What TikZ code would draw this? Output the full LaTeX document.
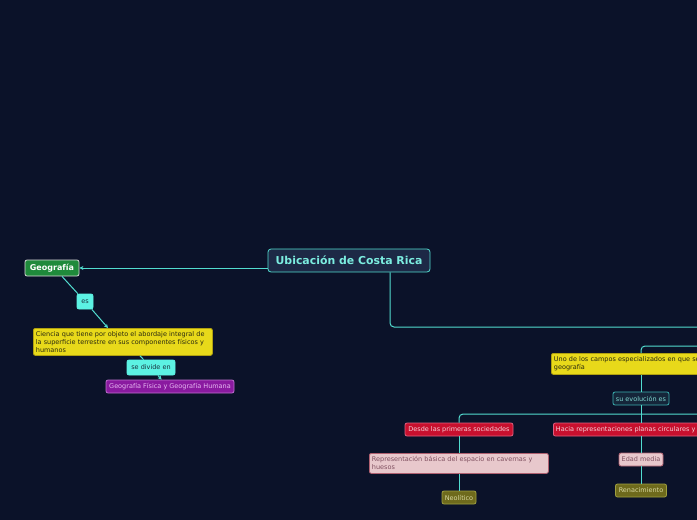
\documentclass[tikz,border=0pt]{standalone}
\usepackage{fontspec}
\setmainfont{DejaVu Sans}
\usetikzlibrary{arrows.meta, positioning}
\definecolor{bgnavy}{HTML}{0B1229}
\definecolor{linkcyan}{HTML}{52DCCF}
\definecolor{centralfill}{HTML}{1D2946}
\definecolor{centraltext}{HTML}{7CEDE0}
\definecolor{geogreen}{HTML}{1F8A3B}
\definecolor{tagcyan}{HTML}{5CF2E3}
\definecolor{tagtext}{HTML}{1A3340}
\definecolor{ideayellow}{HTML}{E8D91A}
\definecolor{ideaborder}{HTML}{B0A010}
\definecolor{ideatext}{HTML}{2A2A10}
\definecolor{purplefill}{HTML}{8A1AA0}
\definecolor{purpleborder}{HTML}{C070D0}
\definecolor{purpletext}{HTML}{E6B8F2}
\definecolor{darkfill}{HTML}{15263A}
\definecolor{darkborder}{HTML}{3AAFAF}
\definecolor{darktext}{HTML}{7FD8D0}
\definecolor{redfill}{HTML}{C8102E}
\definecolor{redborder}{HTML}{E06080}
\definecolor{redtext}{HTML}{F5D0D8}
\definecolor{pinkfill}{HTML}{E8C8CC}
\definecolor{pinkborder}{HTML}{B06070}
\definecolor{pinktext}{HTML}{805060}
\definecolor{olivefill}{HTML}{6E6A1C}
\definecolor{oliveborder}{HTML}{A0A040}
\definecolor{olivetext}{HTML}{D8D8A0}

\begin{document}
\begin{tikzpicture}[
    x=1pt, y=-1pt,
    box/.style={rectangle, draw, rounded corners=2pt, inner xsep=2.5pt, inner ysep=1.5pt, line width=0.8pt,
        font=\fontsize{6.5}{8}\selectfont, align=left},
    central/.style={box, fill=centralfill, draw=linkcyan, text=centraltext, rounded corners=3pt,
        font=\fontsize{10.9}{13}\selectfont\bfseries, minimum width=162pt, minimum height=23pt},
    rootbox/.style={box, fill=geogreen, draw=white!85!black, text=white,
        font=\fontsize{8}{9.5}\selectfont\bfseries, minimum width=54pt, minimum height=16pt},
    tag/.style={box, fill=tagcyan, draw=tagcyan, text=tagtext, minimum height=15pt},
    idea/.style={box, fill=ideayellow, draw=ideaborder, text=ideatext},
    purplebox/.style={box, fill=purplefill, draw=purpleborder, text=purpletext, minimum height=13pt},
    darkbox/.style={box, fill=darkfill, draw=darkborder, text=darktext, minimum height=13pt},
    redbox/.style={box, fill=redfill, draw=redborder, text=redtext, minimum height=13pt},
    pinkbox/.style={box, fill=pinkfill, draw=pinkborder, text=pinktext},
    olivebox/.style={box, fill=olivefill, draw=oliveborder, text=olivetext, minimum height=13pt},
    link/.style={draw=linkcyan, line width=1pt, rounded corners=4pt},
    arrow/.style={link, -{Stealth[length=4pt, width=4pt]}},
]
\clip (0,0) rectangle (697,520);
\fill[bgnavy] (0,0) rectangle (697,520);

% Main topic and left branch
\node[central] (costa) at (349,260.5) {Ubicación de Costa Rica};
\node[rootbox] (geo) at (52,268) {Geografía};
\node[tag, minimum width=16pt] (es) at (85,301.5) {es};
\node[idea, anchor=north west, text width=174pt, minimum height=27pt] (ciencia) at (33,328)
    {Ciencia que tiene por objeto el abordaje integral de\\la superficie terrestre en sus componentes físicos y\\humanos};
\node[tag, minimum width=48pt] (divide) at (151,367.5) {se divide en};
\node[purplebox, minimum width=128pt] (fisica) at (170,386.5) {Geografía Física y Geografía Humana};

% Right branch
\node[idea, anchor=north west, text width=190pt, minimum height=21pt] (campos) at (551,353)
    {Uno de los campos especializados en que se\\geografía};
\node[darkbox, minimum width=56pt] (evol) at (641,398.5) {su evolución es};
\node[redbox, minimum width=108pt] (desde) at (459,429.5) {Desde las primeras sociedades};
\node[redbox, anchor=west, text width=170pt] (hacia) at (553,429.5) {Hacia representaciones planas circulares y};
\node[pinkbox, anchor=north west, text width=174pt, minimum height=20pt] (repres) at (369,453)
    {Representación básica del espacio en cavernas y\\huesos};
\node[olivebox, minimum width=34pt] (neol) at (459,497.5) {Neolítico};
\node[pinkbox, minimum width=44pt, minimum height=13pt] (edad) at (641,459.5) {Edad media};
\node[olivebox, minimum width=51pt] (renac) at (641,490.5) {Renacimiento};

\coordinate (offa) at (710,327);
\coordinate (offb) at (710,346);
\coordinate (offc) at (710,414);

% Connectors
\draw[arrow] (costa.west |- geo.east) -- (geo.east);
\draw[link] ([xshift=10pt]geo.south) -- (es);
\draw[arrow] (es) -- ([xshift=75pt]ciencia.north west);
\draw[link] ([xshift=107pt]ciencia.south west) -- (divide);
\draw[arrow] (divide) -- ([xshift=56pt]fisica.north west);
\draw[link] ([xshift=41pt]costa.south) |- (offa);
\draw[link] (offb) -| (evol |- campos.north);
\draw[link] (evol |- campos.south) -- (evol.north);
\draw[link] (evol.south) -- (evol |- hacia.north);
\draw[link] (desde.north) |- (offc);
\draw[link] (desde.south) -- (desde |- repres.north);
\draw[link] (desde |- repres.south) -- (neol.north);
\draw[link] (evol |- hacia.south) -- (edad.north);
\draw[link] (edad.south) -- (renac.north);

\end{tikzpicture}
\end{document}
